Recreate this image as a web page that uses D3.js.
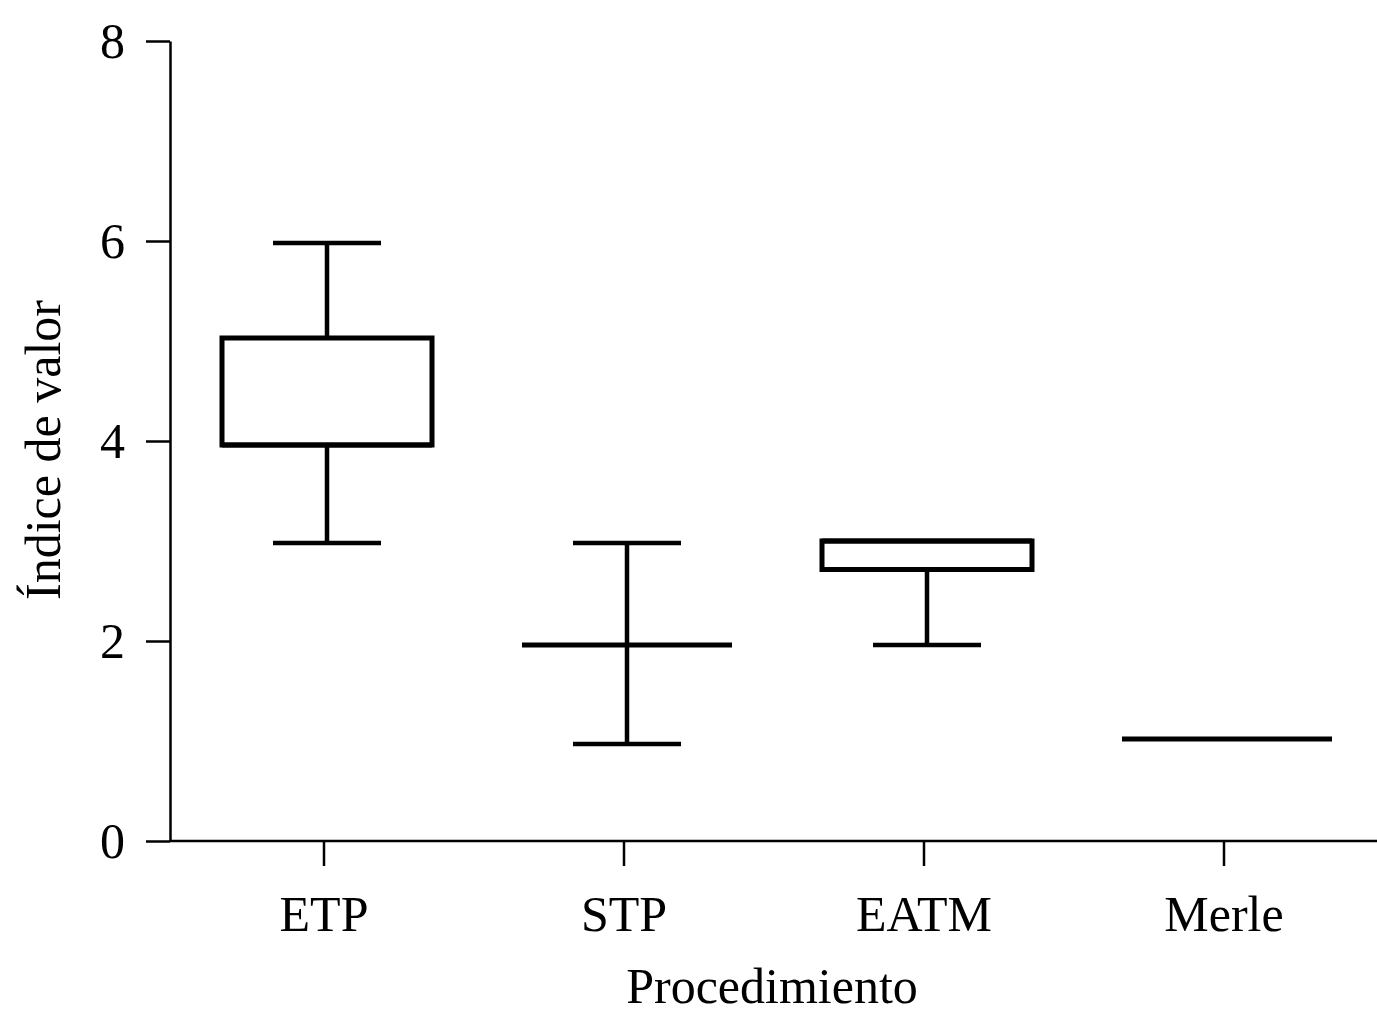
<!DOCTYPE html>
<html>
<head>
<meta charset="utf-8">
<script src="https://cdn.jsdelivr.net/npm/d3@7"></script>
<style>
  body { margin: 0; background: #fff; }
  text { font-family: "Liberation Serif", "Times New Roman", serif; }
</style>
</head>
<body>
<div id="chart"></div>
<script>
// Chart data
var categories = ["ETP", "STP", "EATM", "Merle"];
var mins    = [2.98, 0.97, 1.96, 1.02];
var q1s     = [3.96, 1.96, 2.715, 1.02];
var medians = [3.96, 1.96, 3.0, 1.02];
var q3s     = [5.03, 1.96, 3.0, 1.02];
var maxs    = [5.98, 2.98, 3.0, 1.02];
var yTicks  = [0, 2, 4, 6, 8];

var width = 1377;
var height = 1024;
var margin = { top: 41, right: 3, bottom: 183, left: 170 };

var svg = d3.select("#chart")
    .append("svg")
    .attr("width", width)
    .attr("height", height);

var data = categories.map(function(c, i) {
    return { name: c, min: mins[i], q1: q1s[i], median: medians[i], q3: q3s[i], max: maxs[i] };
});

// Scales
var x = d3.scaleBand()
    .domain(categories)
    .range([174, 1374])
    .padding(0);

var y = d3.scaleLinear()
    .domain([0, 8])
    .range([height - margin.bottom, margin.top]);

var boxW = x.bandwidth() * 0.7;
var capW = x.bandwidth() * 0.36;
var shift = 3; // boxes sit a hair right of the ticks in the original
function cx(d) { return x(d.name) + x.bandwidth() / 2 + shift; }

// Axes
var xAxis = svg.append("g")
    .attr("transform", "translate(0," + y(0) + ")")
    .call(d3.axisBottom(x).tickSize(25).tickSizeOuter(0).tickPadding(29));
xAxis.select(".domain").attr("d", "M" + margin.left + ",0H" + width);

var yAxis = svg.append("g")
    .attr("transform", "translate(" + margin.left + ",0)")
    .call(d3.axisLeft(y).tickValues(yTicks).tickSize(24).tickSizeOuter(0).tickPadding(21));

svg.selectAll(".domain, .tick line")
    .attr("stroke", "#000")
    .attr("stroke-width", 2.5);
svg.selectAll(".tick text")
    .attr("fill", "#000")
    .style("font-size", "50px")
    .style("font-family", "'Liberation Serif', serif");

// Boxes
var g = svg.selectAll(".box")
    .data(data)
    .enter().append("g")
    .attr("class", "box");

// whisker lines
g.append("line")
    .attr("x1", cx)
    .attr("x2", cx)
    .attr("y1", function(d) { return y(d.max); })
    .attr("y2", function(d) { return y(d.min); })
    .attr("stroke", "#000")
    .attr("stroke-width", 4.5);

// whisker caps (only where whiskers exist)
g.filter(function(d) { return d.max > d.q3; }).append("line")
    .attr("x1", function(d) { return cx(d) - capW / 2; })
    .attr("x2", function(d) { return cx(d) + capW / 2; })
    .attr("y1", function(d) { return y(d.max); })
    .attr("y2", function(d) { return y(d.max); })
    .attr("stroke", "#000")
    .attr("stroke-width", 4.5);

g.filter(function(d) { return d.min < d.q1; }).append("line")
    .attr("x1", function(d) { return cx(d) - capW / 2; })
    .attr("x2", function(d) { return cx(d) + capW / 2; })
    .attr("y1", function(d) { return y(d.min); })
    .attr("y2", function(d) { return y(d.min); })
    .attr("stroke", "#000")
    .attr("stroke-width", 4.5);

// box
g.append("rect")
    .attr("x", function(d) { return cx(d) - boxW / 2; })
    .attr("y", function(d) { return y(d.q3); })
    .attr("width", boxW)
    .attr("height", function(d) { return y(d.q1) - y(d.q3); })
    .attr("fill", "#fff")
    .attr("stroke", "#000")
    .attr("stroke-width", 5);

// median
g.append("line")
    .attr("x1", function(d) { return cx(d) - boxW / 2; })
    .attr("x2", function(d) { return cx(d) + boxW / 2; })
    .attr("y1", function(d) { return y(d.median); })
    .attr("y2", function(d) { return y(d.median); })
    .attr("stroke", "#000")
    .attr("stroke-width", 5);

// Axis titles
svg.append("text")
    .attr("x", 772)
    .attr("y", 1003)
    .attr("text-anchor", "middle")
    .style("font-size", "50px")
    .text("Procedimiento");

svg.append("text")
    .attr("transform", "translate(60,450) rotate(-90)")
    .attr("text-anchor", "middle")
    .style("font-size", "50px")
    .text("Índice de valor");
</script>
</body>
</html>
